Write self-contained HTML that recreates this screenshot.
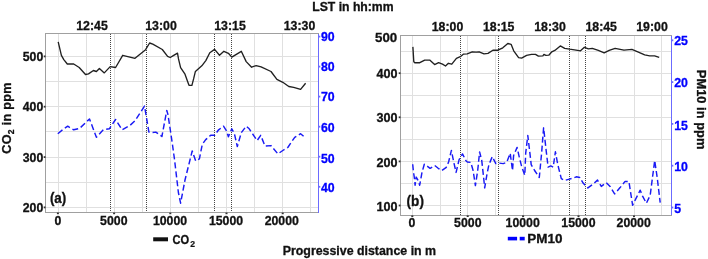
<!DOCTYPE html>
<html><head><meta charset="utf-8"><style>
html,body{margin:0;padding:0;background:#fff;}
body{width:708px;height:259px;overflow:hidden;font-family:"Liberation Sans", sans-serif;}
svg{display:block;}
text{-webkit-font-smoothing:antialiased;}
body>svg{will-change:transform;}
</style></head><body>
<svg width="708" height="259" viewBox="0 0 708 259">
<rect width="708" height="259" fill="#ffffff"/>
<line x1="58.3" y1="33.5" x2="58.3" y2="212.5" stroke="#e0e0e0" stroke-width="1" shape-rendering="crispEdges"/>
<line x1="86.3" y1="33.5" x2="86.3" y2="212.5" stroke="#e0e0e0" stroke-width="1" shape-rendering="crispEdges"/>
<line x1="114.4" y1="33.5" x2="114.4" y2="212.5" stroke="#e0e0e0" stroke-width="1" shape-rendering="crispEdges"/>
<line x1="142.4" y1="33.5" x2="142.4" y2="212.5" stroke="#e0e0e0" stroke-width="1" shape-rendering="crispEdges"/>
<line x1="170.4" y1="33.5" x2="170.4" y2="212.5" stroke="#e0e0e0" stroke-width="1" shape-rendering="crispEdges"/>
<line x1="198.4" y1="33.5" x2="198.4" y2="212.5" stroke="#e0e0e0" stroke-width="1" shape-rendering="crispEdges"/>
<line x1="226.5" y1="33.5" x2="226.5" y2="212.5" stroke="#e0e0e0" stroke-width="1" shape-rendering="crispEdges"/>
<line x1="254.5" y1="33.5" x2="254.5" y2="212.5" stroke="#e0e0e0" stroke-width="1" shape-rendering="crispEdges"/>
<line x1="282.5" y1="33.5" x2="282.5" y2="212.5" stroke="#e0e0e0" stroke-width="1" shape-rendering="crispEdges"/>
<line x1="310.6" y1="33.5" x2="310.6" y2="212.5" stroke="#e0e0e0" stroke-width="1" shape-rendering="crispEdges"/>
<line x1="45.5" y1="56.4" x2="318.5" y2="56.4" stroke="#e0e0e0" stroke-width="1" shape-rendering="crispEdges"/>
<line x1="45.5" y1="81.6" x2="318.5" y2="81.6" stroke="#e0e0e0" stroke-width="1" shape-rendering="crispEdges"/>
<line x1="45.5" y1="106.7" x2="318.5" y2="106.7" stroke="#e0e0e0" stroke-width="1" shape-rendering="crispEdges"/>
<line x1="45.5" y1="131.9" x2="318.5" y2="131.9" stroke="#e0e0e0" stroke-width="1" shape-rendering="crispEdges"/>
<line x1="45.5" y1="157.1" x2="318.5" y2="157.1" stroke="#e0e0e0" stroke-width="1" shape-rendering="crispEdges"/>
<line x1="45.5" y1="182.2" x2="318.5" y2="182.2" stroke="#e0e0e0" stroke-width="1" shape-rendering="crispEdges"/>
<line x1="45.5" y1="207.4" x2="318.5" y2="207.4" stroke="#e0e0e0" stroke-width="1" shape-rendering="crispEdges"/>
<line x1="110.5" y1="34" x2="110.5" y2="212.5" stroke="#454545" stroke-width="1" stroke-dasharray="1 1" shape-rendering="crispEdges"/>
<line x1="146.5" y1="34" x2="146.5" y2="212.5" stroke="#454545" stroke-width="1" stroke-dasharray="1 1" shape-rendering="crispEdges"/>
<line x1="214.5" y1="34" x2="214.5" y2="212.5" stroke="#454545" stroke-width="1" stroke-dasharray="1 1" shape-rendering="crispEdges"/>
<line x1="231.5" y1="34" x2="231.5" y2="212.5" stroke="#454545" stroke-width="1" stroke-dasharray="1 1" shape-rendering="crispEdges"/>
<polyline points="318.5,33.5 45.5,33.5 45.5,212.5 318.5,212.5" fill="none" stroke="#a0a0a0" stroke-width="1" shape-rendering="crispEdges"/>
<line x1="318.5" y1="33.5" x2="318.5" y2="212.5" stroke="#6b6bff" stroke-width="1" shape-rendering="crispEdges"/>
<line x1="412.3" y1="35.5" x2="412.3" y2="215.3" stroke="#e0e0e0" stroke-width="1" shape-rendering="crispEdges"/>
<line x1="440.0" y1="35.5" x2="440.0" y2="215.3" stroke="#e0e0e0" stroke-width="1" shape-rendering="crispEdges"/>
<line x1="467.7" y1="35.5" x2="467.7" y2="215.3" stroke="#e0e0e0" stroke-width="1" shape-rendering="crispEdges"/>
<line x1="495.5" y1="35.5" x2="495.5" y2="215.3" stroke="#e0e0e0" stroke-width="1" shape-rendering="crispEdges"/>
<line x1="523.2" y1="35.5" x2="523.2" y2="215.3" stroke="#e0e0e0" stroke-width="1" shape-rendering="crispEdges"/>
<line x1="550.9" y1="35.5" x2="550.9" y2="215.3" stroke="#e0e0e0" stroke-width="1" shape-rendering="crispEdges"/>
<line x1="578.6" y1="35.5" x2="578.6" y2="215.3" stroke="#e0e0e0" stroke-width="1" shape-rendering="crispEdges"/>
<line x1="606.3" y1="35.5" x2="606.3" y2="215.3" stroke="#e0e0e0" stroke-width="1" shape-rendering="crispEdges"/>
<line x1="634.1" y1="35.5" x2="634.1" y2="215.3" stroke="#e0e0e0" stroke-width="1" shape-rendering="crispEdges"/>
<line x1="661.8" y1="35.5" x2="661.8" y2="215.3" stroke="#e0e0e0" stroke-width="1" shape-rendering="crispEdges"/>
<line x1="400.5" y1="51.1" x2="671.5" y2="51.1" stroke="#e0e0e0" stroke-width="1" shape-rendering="crispEdges"/>
<line x1="400.5" y1="73.2" x2="671.5" y2="73.2" stroke="#e0e0e0" stroke-width="1" shape-rendering="crispEdges"/>
<line x1="400.5" y1="95.2" x2="671.5" y2="95.2" stroke="#e0e0e0" stroke-width="1" shape-rendering="crispEdges"/>
<line x1="400.5" y1="117.2" x2="671.5" y2="117.2" stroke="#e0e0e0" stroke-width="1" shape-rendering="crispEdges"/>
<line x1="400.5" y1="139.3" x2="671.5" y2="139.3" stroke="#e0e0e0" stroke-width="1" shape-rendering="crispEdges"/>
<line x1="400.5" y1="161.3" x2="671.5" y2="161.3" stroke="#e0e0e0" stroke-width="1" shape-rendering="crispEdges"/>
<line x1="400.5" y1="183.4" x2="671.5" y2="183.4" stroke="#e0e0e0" stroke-width="1" shape-rendering="crispEdges"/>
<line x1="400.5" y1="205.4" x2="671.5" y2="205.4" stroke="#e0e0e0" stroke-width="1" shape-rendering="crispEdges"/>
<line x1="460.5" y1="36" x2="460.5" y2="215.3" stroke="#454545" stroke-width="1" stroke-dasharray="1 1" shape-rendering="crispEdges"/>
<line x1="498.5" y1="36" x2="498.5" y2="215.3" stroke="#454545" stroke-width="1" stroke-dasharray="1 1" shape-rendering="crispEdges"/>
<line x1="569.5" y1="36" x2="569.5" y2="215.3" stroke="#454545" stroke-width="1" stroke-dasharray="1 1" shape-rendering="crispEdges"/>
<line x1="585.5" y1="36" x2="585.5" y2="215.3" stroke="#454545" stroke-width="1" stroke-dasharray="1 1" shape-rendering="crispEdges"/>
<polyline points="671.5,35.5 400.5,35.5 400.5,215.3 671.5,215.3" fill="none" stroke="#a0a0a0" stroke-width="1" shape-rendering="crispEdges"/>
<line x1="671.5" y1="35.5" x2="671.5" y2="215.3" stroke="#6b6bff" stroke-width="1" shape-rendering="crispEdges"/>
<line x1="43.7" y1="56.4" x2="45.5" y2="56.4" stroke="#333" stroke-width="1.8"/>
<line x1="43.7" y1="106.7" x2="45.5" y2="106.7" stroke="#333" stroke-width="1.8"/>
<line x1="43.7" y1="157.1" x2="45.5" y2="157.1" stroke="#333" stroke-width="1.8"/>
<line x1="43.7" y1="207.4" x2="45.5" y2="207.4" stroke="#333" stroke-width="1.8"/>
<line x1="318.5" y1="36.6" x2="320.3" y2="36.6" stroke="#6b6bff" stroke-width="1.8"/>
<line x1="318.5" y1="66.6" x2="320.3" y2="66.6" stroke="#6b6bff" stroke-width="1.8"/>
<line x1="318.5" y1="96.6" x2="320.3" y2="96.6" stroke="#6b6bff" stroke-width="1.8"/>
<line x1="318.5" y1="126.7" x2="320.3" y2="126.7" stroke="#6b6bff" stroke-width="1.8"/>
<line x1="318.5" y1="156.7" x2="320.3" y2="156.7" stroke="#6b6bff" stroke-width="1.8"/>
<line x1="318.5" y1="186.8" x2="320.3" y2="186.8" stroke="#6b6bff" stroke-width="1.8"/>
<line x1="56.9" y1="213.4" x2="58.9" y2="213.4" stroke="#333" stroke-width="1.6"/>
<line x1="113.1" y1="213.4" x2="115.1" y2="213.4" stroke="#333" stroke-width="1.6"/>
<line x1="169.3" y1="213.4" x2="171.3" y2="213.4" stroke="#333" stroke-width="1.6"/>
<line x1="225.5" y1="213.4" x2="227.5" y2="213.4" stroke="#333" stroke-width="1.6"/>
<line x1="281.7" y1="213.4" x2="283.7" y2="213.4" stroke="#333" stroke-width="1.6"/>
<line x1="398.7" y1="73.2" x2="400.5" y2="73.2" stroke="#333" stroke-width="1.8"/>
<line x1="398.7" y1="117.3" x2="400.5" y2="117.3" stroke="#333" stroke-width="1.8"/>
<line x1="398.7" y1="161.4" x2="400.5" y2="161.4" stroke="#333" stroke-width="1.8"/>
<line x1="398.7" y1="205.5" x2="400.5" y2="205.5" stroke="#333" stroke-width="1.8"/>
<line x1="671.5" y1="40.3" x2="673.3" y2="40.3" stroke="#6b6bff" stroke-width="1.8"/>
<line x1="671.5" y1="82.1" x2="673.3" y2="82.1" stroke="#6b6bff" stroke-width="1.8"/>
<line x1="671.5" y1="123.9" x2="673.3" y2="123.9" stroke="#6b6bff" stroke-width="1.8"/>
<line x1="671.5" y1="165.7" x2="673.3" y2="165.7" stroke="#6b6bff" stroke-width="1.8"/>
<line x1="671.5" y1="207.5" x2="673.3" y2="207.5" stroke="#6b6bff" stroke-width="1.8"/>
<line x1="411.3" y1="216.20000000000002" x2="413.3" y2="216.20000000000002" stroke="#333" stroke-width="1.6"/>
<line x1="466.7" y1="216.20000000000002" x2="468.7" y2="216.20000000000002" stroke="#333" stroke-width="1.6"/>
<line x1="522.1" y1="216.20000000000002" x2="524.1" y2="216.20000000000002" stroke="#333" stroke-width="1.6"/>
<line x1="577.5" y1="216.20000000000002" x2="579.5" y2="216.20000000000002" stroke="#333" stroke-width="1.6"/>
<line x1="633.0" y1="216.20000000000002" x2="635.0" y2="216.20000000000002" stroke="#333" stroke-width="1.6"/>
<polyline points="57.8,133.7 63.8,128.8 67.7,126.2 73.7,129.8 79.6,128.4 89.5,118.9 96.4,137.3 103.3,129.8 109.3,128.8 115.6,119.5 122.1,129.8 130,125.4 135,120.8 144.5,106.1 146.3,116.5 148.9,132.1 150.6,132.6 155.8,132.1 161.9,136.5 164.5,122.6 166.8,110.4 168,114.8 169.7,126 172.3,143.4 174.5,159.4 178.4,192.5 180.6,203.2 185,180 192.2,151 195.7,160.9 199.4,158.8 202.3,144.3 205.7,139.6 210.7,135.3 214.6,135.3 218.6,129.8 223.5,126.2 226.5,130.8 228.4,136.7 231.8,128.8 234.4,133.7 237.3,146.6 241.3,132.7 246.2,126.2 249.2,128.8 257.1,140.6 260.7,135.3 265,146 271,145.6 277.9,153.9 282.8,150.5 287.8,147.5 294.7,137.3 300.6,133.7 305.6,138.1" fill="none" stroke="#1a1af5" stroke-width="1.45" stroke-dasharray="6 3" stroke-linejoin="round"/>
<polyline points="412.7,164.3 413.4,171.3 414.4,178.2 415.1,185.2 416.2,177.1 418.1,180.5 419.7,185.2 422,172.4 424.3,164.3 427.8,166.6 430.1,168.3 434.7,165.5 438.2,168.3 441.7,170.6 446.3,167.3 448.6,162 451.4,150.4 453.7,162 456.1,172.4 459.1,159.7 462.5,153.9 466,160.8 467.3,162 470.8,162.4 473.1,170.5 475.4,185.6 477.7,170.5 479.6,152 481.7,160.1 483.5,176.3 484.7,187.9 487,174 488.9,164.7 492.3,156.6 495.8,163.6 499.3,163.1 503.2,163.6 506.7,162.4 510.2,153.2 512.5,170.5 513.6,155.5 517.1,147.4 519.4,157.8 521.8,167.1 524.8,175.2 525.7,153.2 527.8,135.5 529.9,153.2 531.2,164.7 534.6,170.5 539.3,177.5 541.6,153.2 543.6,127.8 546.2,150.8 548.1,167.1 550.8,165.9 553.2,167.1 555.4,151.8 557.8,164.7 561.3,178.6 564.7,180.5 569.4,179.1 572.9,178.2 576.3,176.8 579.8,177.5 583.3,183.3 587.9,187.9 593.7,183.7 597.5,180.1 601.3,186.4 606.3,182.6 610.1,186.4 614.6,193.9 620.1,187.6 625.1,181.4 628.9,181.4 632.6,205.2 636.4,197.7 640.2,190.2 642.7,196.4 646.4,203.2 650.2,195.2 654.7,160.5 657.2,177.6 660.2,202.7" fill="none" stroke="#1a1af5" stroke-width="1.45" stroke-dasharray="6 3" stroke-linejoin="round"/>
<polyline points="58.2,41.9 61.4,55.3 63.8,59.6 67.3,64 73.7,64 79.2,67.5 85.5,74.5 88.5,73.9 93.4,70.5 96.4,71.5 99.4,68.5 104.3,72.9 110.2,66.6 115.6,67.5 122.7,55.3 135,58.3 145.6,49.7 149.6,43 152.8,44.2 162.3,49.5 167.6,56.3 170.2,57.5 173.7,55.4 177.5,53.2 178.5,58.9 180.6,67.6 185,74.2 187.6,81.5 189,85.3 191.9,85.3 193.6,78.9 195.4,71.4 201.8,65.8 205.8,60.6 209.8,52.8 214.6,49.4 219.5,55.3 223.9,51.3 228.4,53.3 231.8,57.1 241.3,51.3 246.2,61.6 251.6,67.2 256.1,65.6 261.1,66.8 271,71.5 276.9,79.4 282.8,82.3 288.8,86.5 293.7,87.3 300.6,89.4 305.6,83.3" fill="none" stroke="#202020" stroke-width="1.35" stroke-linejoin="round"/>
<polyline points="412.9,46.9 413.8,61.7 414.8,62.7 419.8,62.7 424.7,60.1 429.7,60.1 434.6,64.6 438.6,62.7 442.5,64.2 445.5,66 448.4,63.3 451.8,64.2 456.4,58.3 460.3,56.7 463.3,54.2 467.2,53.8 472.2,51.8 476.1,52.2 479.1,51.8 484,53.8 488,53.4 492.9,50.2 497.9,50.2 502.8,47.8 507.8,43.5 511.1,44.3 513.7,50.8 518.6,57.7 521.6,58.1 526.6,55.4 531.5,54.4 535.5,54.4 538.4,56.1 542.9,55.8 543.9,54.4 545.9,55.4 548.8,55.2 551.8,51.8 554.8,50.4 560.3,45.9 564.7,48.4 569.6,49.2 574.5,49.8 580.5,50.8 584.4,47.3 588.4,48.8 592.3,48.4 598.3,50.4 604.2,52.8 609.2,50.4 615.1,48.4 624,50.2 631.9,49.4 637.8,51.8 644.7,54.8 649.7,55.8 654.6,55.8 659.2,57.3" fill="none" stroke="#202020" stroke-width="1.35" stroke-linejoin="round"/>
<g font-family='"Liberation Sans", sans-serif' font-weight="bold">
<text x="43.3" y="61.0" font-size="12.3" text-anchor="end" fill="#111" stroke="#111" stroke-width="0.3">500</text>
<text x="43.3" y="111.3" font-size="12.3" text-anchor="end" fill="#111" stroke="#111" stroke-width="0.3">400</text>
<text x="43.3" y="161.7" font-size="12.3" text-anchor="end" fill="#111" stroke="#111" stroke-width="0.3">300</text>
<text x="43.3" y="212.0" font-size="12.3" text-anchor="end" fill="#111" stroke="#111" stroke-width="0.3">200</text>
<text x="320.9" y="41.3" font-size="12.3" text-anchor="start" fill="#0000ff" stroke="#0000ff" stroke-width="0.3">90</text>
<text x="320.9" y="71.3" font-size="12.3" text-anchor="start" fill="#0000ff" stroke="#0000ff" stroke-width="0.3">80</text>
<text x="320.9" y="100.89999999999999" font-size="12.3" text-anchor="start" fill="#0000ff" stroke="#0000ff" stroke-width="0.3">70</text>
<text x="320.9" y="132.20000000000002" font-size="12.3" text-anchor="start" fill="#0000ff" stroke="#0000ff" stroke-width="0.3">60</text>
<text x="320.9" y="162.5" font-size="12.3" text-anchor="start" fill="#0000ff" stroke="#0000ff" stroke-width="0.3">50</text>
<text x="320.9" y="192.10000000000002" font-size="12.3" text-anchor="start" fill="#0000ff" stroke="#0000ff" stroke-width="0.3">40</text>
<text x="92.0" y="30.45" font-size="12.3" text-anchor="middle" fill="#111" stroke="#111" stroke-width="0.3">12:45</text>
<text x="161.0" y="30.45" font-size="12.3" text-anchor="middle" fill="#111" stroke="#111" stroke-width="0.3">13:00</text>
<text x="230.0" y="30.45" font-size="12.3" text-anchor="middle" fill="#111" stroke="#111" stroke-width="0.3">13:15</text>
<text x="299.5" y="30.45" font-size="12.3" text-anchor="middle" fill="#111" stroke="#111" stroke-width="0.3">13:30</text>
<text x="57.8" y="224.9" font-size="12.3" text-anchor="middle" fill="#111" stroke="#111" stroke-width="0.3">0</text>
<text x="113.8" y="224.9" font-size="12.3" text-anchor="middle" fill="#111" stroke="#111" stroke-width="0.3">5000</text>
<text x="170.0" y="224.9" font-size="12.3" text-anchor="middle" fill="#111" stroke="#111" stroke-width="0.3">10000</text>
<text x="226.0" y="224.9" font-size="12.3" text-anchor="middle" fill="#111" stroke="#111" stroke-width="0.3">15000</text>
<text x="281.8" y="224.9" font-size="12.3" text-anchor="middle" fill="#111" stroke="#111" stroke-width="0.3">20000</text>
<text x="397.2" y="41.8" font-size="13.3" text-anchor="end" fill="#111" stroke="#111" stroke-width="0.3">500</text>
<text x="397.5" y="78.2" font-size="12.6" text-anchor="end" fill="#111" stroke="#111" stroke-width="0.3">400</text>
<text x="397.5" y="122.3" font-size="12.6" text-anchor="end" fill="#111" stroke="#111" stroke-width="0.3">300</text>
<text x="397.5" y="166.9" font-size="12.6" text-anchor="end" fill="#111" stroke="#111" stroke-width="0.3">200</text>
<text x="397.5" y="210.5" font-size="12.6" text-anchor="end" fill="#111" stroke="#111" stroke-width="0.3">100</text>
<text x="674.2" y="44.8" font-size="12.3" text-anchor="start" fill="#0000ff" stroke="#0000ff" stroke-width="0.3">25</text>
<text x="674.2" y="87.1" font-size="12.3" text-anchor="start" fill="#0000ff" stroke="#0000ff" stroke-width="0.3">20</text>
<text x="674.2" y="129.5" font-size="12.3" text-anchor="start" fill="#0000ff" stroke="#0000ff" stroke-width="0.3">15</text>
<text x="674.2" y="171.3" font-size="12.3" text-anchor="start" fill="#0000ff" stroke="#0000ff" stroke-width="0.3">10</text>
<text x="674.2" y="212.60000000000002" font-size="12.3" text-anchor="start" fill="#0000ff" stroke="#0000ff" stroke-width="0.3">5</text>
<text x="447.5" y="30.5" font-size="12.3" text-anchor="middle" fill="#111" stroke="#111" stroke-width="0.3">18:00</text>
<text x="498.7" y="30.5" font-size="12.3" text-anchor="middle" fill="#111" stroke="#111" stroke-width="0.3">18:15</text>
<text x="550.0" y="30.5" font-size="12.3" text-anchor="middle" fill="#111" stroke="#111" stroke-width="0.3">18:30</text>
<text x="601.2" y="30.5" font-size="12.3" text-anchor="middle" fill="#111" stroke="#111" stroke-width="0.3">18:45</text>
<text x="652.0" y="30.5" font-size="12.3" text-anchor="middle" fill="#111" stroke="#111" stroke-width="0.3">19:00</text>
<text x="411.9" y="227.0" font-size="12.3" text-anchor="middle" fill="#111" stroke="#111" stroke-width="0.3">0</text>
<text x="467.8" y="227.0" font-size="12.3" text-anchor="middle" fill="#111" stroke="#111" stroke-width="0.3">5000</text>
<text x="522.7" y="227.0" font-size="12.3" text-anchor="middle" fill="#111" stroke="#111" stroke-width="0.3">10000</text>
<text x="578.4" y="227.0" font-size="12.3" text-anchor="middle" fill="#111" stroke="#111" stroke-width="0.3">15000</text>
<text x="633.7" y="227.0" font-size="12.3" text-anchor="middle" fill="#111" stroke="#111" stroke-width="0.3">20000</text>
<text x="312.2" y="11.0" font-size="12" text-anchor="start" fill="#111" stroke="#111" stroke-width="0.3" textLength="81.4" lengthAdjust="spacingAndGlyphs">LST in hh:mm</text>
<text x="282.7" y="254.9" font-size="12.6" text-anchor="start" fill="#111" stroke="#111" stroke-width="0.3" textLength="153.4" lengthAdjust="spacingAndGlyphs">Progressive distance in m</text>
<text x="49.9" y="202.7" font-size="13.8" text-anchor="start" fill="#111" stroke="#111" stroke-width="0.3" textLength="16.4" lengthAdjust="spacingAndGlyphs">(a)</text>
<text x="406.6" y="206.2" font-size="13.8" text-anchor="start" fill="#111" stroke="#111" stroke-width="0.3" textLength="17.3" lengthAdjust="spacingAndGlyphs">(b)</text>
<text transform="translate(11,153.7) rotate(-90)" font-size="12.6" letter-spacing="0.3" fill="#111" stroke="#111" stroke-width="0.3"><tspan>CO</tspan><tspan font-size="8.6" dy="2.6">2</tspan><tspan dy="-2.6"> in ppm</tspan></text>
<text transform="translate(697.3,69.8) rotate(90)" font-size="12.6" fill="#111" stroke="#111" stroke-width="0.3" textLength="79.6" lengthAdjust="spacingAndGlyphs">PM10 in ppm</text>
<line x1="153.2" y1="239.3" x2="168" y2="239.3" stroke="#111" stroke-width="4"/>
<text x="172.5" y="244" font-size="12.6" fill="#111" stroke="#111" stroke-width="0.3" textLength="16.7" lengthAdjust="spacingAndGlyphs">CO</text>
<text x="190.3" y="246.6" font-size="8.6" fill="#111" stroke="#111" stroke-width="0.2">2</text>
<line x1="507.8" y1="238.6" x2="517.1" y2="238.6" stroke="#0000ff" stroke-width="3.6"/>
<line x1="519.7" y1="238.6" x2="524.7" y2="238.6" stroke="#0000ff" stroke-width="3.6"/>
<text x="527.3" y="242.8" font-size="12.6" text-anchor="start" fill="#111" stroke="#111" stroke-width="0.3" textLength="35.2" lengthAdjust="spacingAndGlyphs">PM10</text>
</g>
</svg>
</body></html>
